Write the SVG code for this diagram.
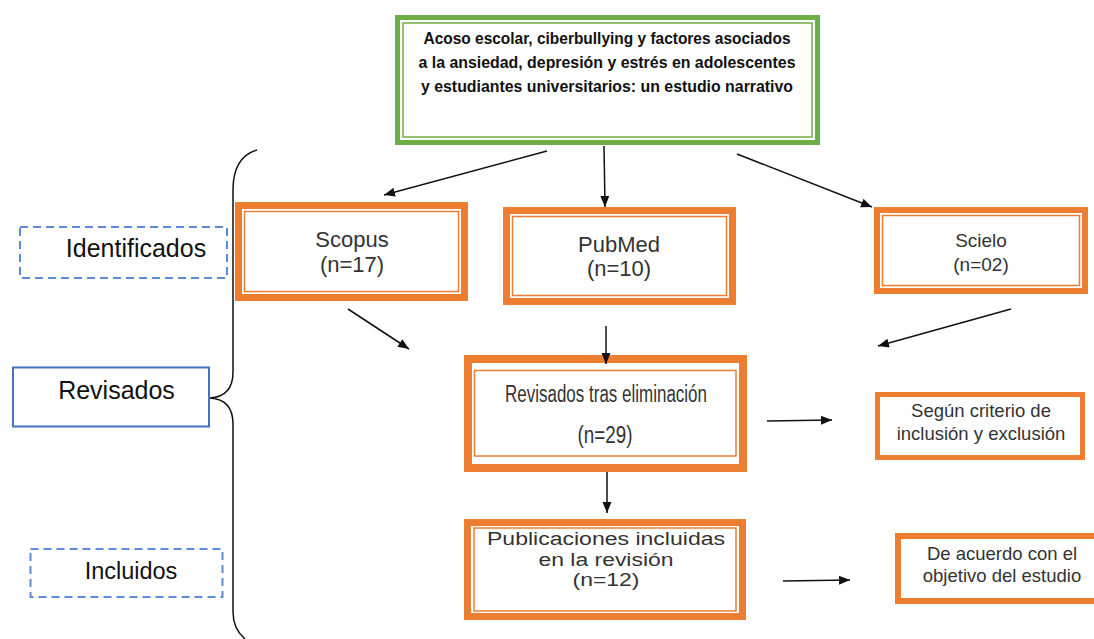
<svg xmlns="http://www.w3.org/2000/svg" width="1094" height="639" viewBox="0 0 1094 639">
<defs>
<marker id="ah" markerUnits="userSpaceOnUse" markerWidth="12" markerHeight="10" refX="11" refY="4.5" orient="auto">
<path d="M0,0 L11,4.5 L0,9 z" fill="#111"/>
</marker>
<style>
.bg{fill:#fff}
.g{fill:#fff;stroke:#70AD47}
.gi{fill:none;stroke:#70AD47;stroke-width:1.5}
.o{fill:#fff;stroke:#ED7D31}
.oi{fill:none;stroke:#ED7D31;stroke-width:1.5}
.dash{fill:#fff;stroke:#5B8BD9;stroke-width:2;stroke-dasharray:8 5}
.blue{fill:#fff;stroke:#4472C4;stroke-width:2}
.t{font-family:"Liberation Sans",Arial,sans-serif;fill:#333;text-anchor:middle}
.tb{font-family:"Liberation Sans",Arial,sans-serif;font-weight:bold;fill:#111;text-anchor:middle;font-size:16px}
.lab{font-family:"Liberation Sans",Arial,sans-serif;fill:#111;text-anchor:middle}
.c{stroke:#111;stroke-width:1.5;fill:none}
</style>
</defs>
<rect class="bg" x="0" y="0" width="1094" height="639"/>

<g id="title">
<rect class="g" x="397.5" y="17.5" width="420" height="125" stroke-width="5"/>
<rect class="gi" x="403" y="23" width="409" height="114"/>
<text class="tb" x="607" y="44" textLength="367" lengthAdjust="spacingAndGlyphs">Acoso escolar, ciberbullying y factores asociados</text>
<text class="tb" x="607" y="68" textLength="377" lengthAdjust="spacingAndGlyphs">a la ansiedad, depresión y estrés en adolescentes</text>
<text class="tb" x="607" y="92" textLength="372" lengthAdjust="spacingAndGlyphs">y estudiantes universitarios: un estudio narrativo</text>
</g>

<g id="brace">
<path class="c" d="M257,150 C240,155 233,170 233,190 L233,372 C233,388 226,397 210,398 C226,399 233,408 233,424 L233,612 C233,625 238,633 245,639"/>
</g>

<g id="identificados">
<rect class="dash" x="20" y="227" width="207" height="51"/>
<text class="lab" x="136" y="257" font-size="25">Identificados</text>
</g>

<g id="revisados">
<rect class="blue" x="13" y="367.5" width="196" height="59"/>
<text class="lab" x="116.5" y="399" font-size="25">Revisados</text>
</g>

<g id="incluidos">
<rect class="dash" x="30.5" y="549" width="192" height="48"/>
<text class="lab" x="131" y="579" font-size="23.5">Incluidos</text>
</g>

<g id="scopus">
<rect class="o" x="238.5" y="205.5" width="226" height="92" stroke-width="7"/>
<rect class="oi" x="244.5" y="211.5" width="214" height="80"/>
<text class="t" x="352" y="247" font-size="22">Scopus</text>
<text class="t" x="352" y="272" font-size="22">(n=17)</text>
</g>

<g id="pubmed">
<rect class="o" x="506.5" y="210.5" width="226" height="91" stroke-width="7"/>
<rect class="oi" x="512.5" y="216.5" width="214" height="79"/>
<text class="t" x="619" y="252" font-size="22">PubMed</text>
<text class="t" x="619" y="276" font-size="22">(n=10)</text>
</g>

<g id="scielo">
<rect class="o" x="877" y="210" width="208" height="81" stroke-width="6"/>
<rect class="oi" x="882.5" y="215.5" width="197" height="70"/>
<text class="t" x="981" y="247" font-size="19">Scielo</text>
<text class="t" x="981" y="271" font-size="19">(n=02)</text>
</g>

<g id="revisados-tras">
<rect class="o" x="468" y="359" width="275" height="109" stroke-width="8"/>
<rect class="oi" x="474.5" y="370.5" width="261.5" height="85.5" stroke-width="2"/>
<text class="t" x="606" y="402" font-size="23" textLength="202" lengthAdjust="spacingAndGlyphs">Revisados tras eliminación</text>
<text class="t" x="605" y="443" font-size="23" textLength="55" lengthAdjust="spacingAndGlyphs">(n=29)</text>
</g>

<g id="segun">
<rect class="o" x="877.5" y="394.5" width="205" height="63" stroke-width="5"/>
<text class="t" x="981" y="417" font-size="18.5">Según criterio de</text>
<text class="t" x="981" y="440" font-size="18.5">inclusión y exclusión</text>
</g>

<g id="publicaciones">
<rect class="o" x="467.5" y="522.5" width="275" height="94" stroke-width="7"/>
<rect class="oi" x="474" y="528" width="262" height="83"/>
<text class="t" x="606" y="545" font-size="18" textLength="238" lengthAdjust="spacingAndGlyphs">Publicaciones incluidas</text>
<text class="t" x="606" y="566" font-size="18" textLength="135" lengthAdjust="spacingAndGlyphs">en la revisión</text>
<text class="t" x="606" y="586" font-size="18" textLength="67" lengthAdjust="spacingAndGlyphs">(n=12)</text>
</g>

<g id="de-acuerdo">
<rect class="o" x="898" y="536" width="215" height="65" stroke-width="6"/>
<text class="t" x="1002" y="560" font-size="18.5">De acuerdo con el</text>
<text class="t" x="1002" y="582" font-size="18.5">objetivo del estudio</text>
</g>

<g id="connectors">
<line class="c" x1="547" y1="151" x2="384" y2="195" marker-end="url(#ah)"/>
<line class="c" x1="604" y1="146" x2="605" y2="207" marker-end="url(#ah)"/>
<line class="c" x1="737" y1="154" x2="872" y2="207" marker-end="url(#ah)"/>
<line class="c" x1="348" y1="309" x2="409" y2="349" marker-end="url(#ah)"/>
<line class="c" x1="606" y1="326" x2="606" y2="364" marker-end="url(#ah)"/>
<line class="c" x1="1011" y1="309" x2="878" y2="346" marker-end="url(#ah)"/>
<line class="c" x1="607" y1="472" x2="607" y2="513" marker-end="url(#ah)"/>
<line class="c" x1="767" y1="421" x2="832" y2="420" marker-end="url(#ah)"/>
<line class="c" x1="783" y1="581" x2="850" y2="580" marker-end="url(#ah)"/>
</g>
</svg>
